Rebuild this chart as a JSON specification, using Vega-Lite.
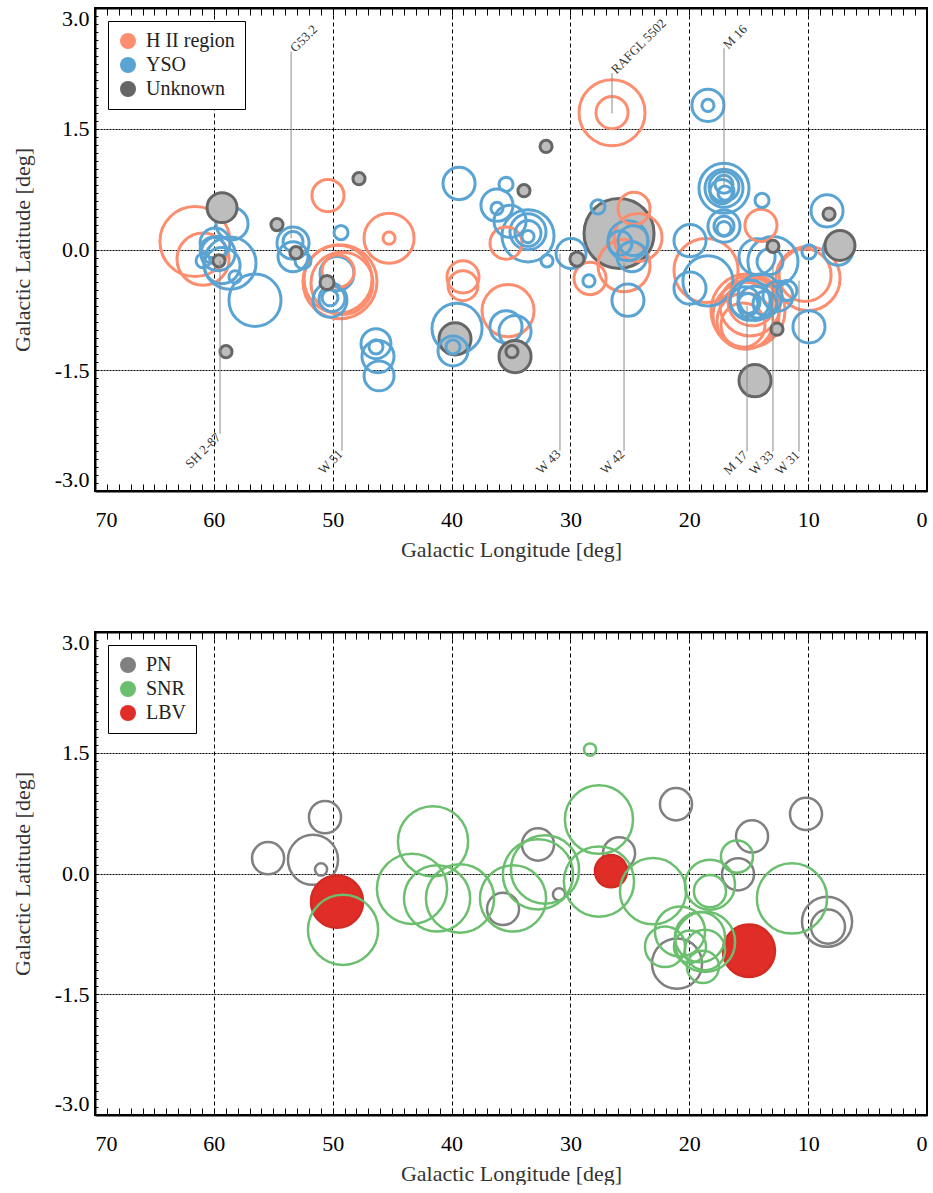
{
  "$schema": "https://vega.github.io/schema/vega-lite/v6.json",
  "background": "white",
  "padding": {"left": 10, "top": 4, "right": 0, "bottom": 0},
  "config": {
    "font": "Liberation Serif",
    "view": {"stroke": "black", "strokeWidth": 2},
    "axis": {
      "labelFont": "Liberation Serif",
      "titleFont": "Liberation Serif",
      "labelFontSize": 22,
      "titleFontSize": 22,
      "labelColor": "#000",
      "titleColor": "#333",
      "titleFontWeight": "normal",
      "domainColor": "black",
      "domainWidth": 2,
      "tickColor": "black",
      "tickWidth": 1,
      "labelOverlap": false,
      "labelBound": false,
      "gridColor": "black",
      "gridWidth": 1
    },
    "legend": {
      "orient": "top-left",
      "offset": 13,
      "padding": 10,
      "strokeColor": "black",
      "fillColor": "white",
      "cornerRadius": 0,
      "labelFont": "Liberation Serif",
      "labelFontSize": 20,
      "labelColor": "#222",
      "symbolType": "circle",
      "symbolSize": 256,
      "symbolStrokeWidth": 0,
      "symbolOpacity": 1,
      "rowPadding": 4,
      "labelOffset": 8
    }
  },
  "datasets": {
    "top": [
      {"type": "H II region", "l": 61.59, "b": 0.10, "r": 0.435},
      {"type": "H II region", "l": 60.91, "b": -0.12, "r": 0.323},
      {"type": "H II region", "l": 50.40, "b": 0.67, "r": 0.199},
      {"type": "H II region", "l": 45.26, "b": 0.14, "r": 0.311},
      {"type": "H II region", "l": 45.26, "b": 0.14, "r": 0.075},
      {"type": "H II region", "l": 49.39, "b": -0.40, "r": 0.46},
      {"type": "H II region", "l": 49.55, "b": -0.37, "r": 0.422},
      {"type": "H II region", "l": 49.22, "b": -0.42, "r": 0.385},
      {"type": "H II region", "l": 49.55, "b": -0.27, "r": 0.199},
      {"type": "H II region", "l": 39.04, "b": -0.34, "r": 0.199},
      {"type": "H II region", "l": 39.04, "b": -0.45, "r": 0.186},
      {"type": "H II region", "l": 35.25, "b": -0.76, "r": 0.323},
      {"type": "H II region", "l": 35.42, "b": 0.08, "r": 0.199},
      {"type": "H II region", "l": 28.35, "b": -0.36, "r": 0.199},
      {"type": "H II region", "l": 26.50, "b": 1.70, "r": 0.41},
      {"type": "H II region", "l": 26.50, "b": 1.70, "r": 0.199},
      {"type": "H II region", "l": 24.65, "b": 0.51, "r": 0.199},
      {"type": "H II region", "l": 24.31, "b": 0.15, "r": 0.298},
      {"type": "H II region", "l": 25.49, "b": -0.20, "r": 0.323},
      {"type": "H II region", "l": 13.97, "b": 0.30, "r": 0.199},
      {"type": "H II region", "l": 18.59, "b": -0.26, "r": 0.398},
      {"type": "H II region", "l": 15.06, "b": -0.76, "r": 0.46},
      {"type": "H II region", "l": 15.23, "b": -0.82, "r": 0.41},
      {"type": "H II region", "l": 15.31, "b": -0.89, "r": 0.348},
      {"type": "H II region", "l": 15.48, "b": -0.94, "r": 0.273},
      {"type": "H II region", "l": 14.89, "b": -0.70, "r": 0.373},
      {"type": "H II region", "l": 14.72, "b": -0.65, "r": 0.298},
      {"type": "H II region", "l": 10.01, "b": -0.36, "r": 0.398},
      {"type": "H II region", "l": 10.26, "b": -0.32, "r": 0.323},
      {"type": "YSO", "l": 58.47, "b": 0.32, "r": 0.199},
      {"type": "YSO", "l": 59.90, "b": 0.08, "r": 0.186},
      {"type": "YSO", "l": 59.65, "b": -0.05, "r": 0.211},
      {"type": "YSO", "l": 60.07, "b": -0.01, "r": 0.161},
      {"type": "YSO", "l": 58.64, "b": -0.17, "r": 0.323},
      {"type": "YSO", "l": 56.54, "b": -0.63, "r": 0.323},
      {"type": "YSO", "l": 58.22, "b": -0.34, "r": 0.075},
      {"type": "YSO", "l": 60.91, "b": -0.14, "r": 0.087},
      {"type": "YSO", "l": 59.31, "b": -0.20, "r": 0.224},
      {"type": "YSO", "l": 53.34, "b": 0.08, "r": 0.199},
      {"type": "YSO", "l": 53.34, "b": -0.09, "r": 0.186},
      {"type": "YSO", "l": 53.34, "b": 0.10, "r": 0.124},
      {"type": "YSO", "l": 52.50, "b": -0.14, "r": 0.099},
      {"type": "YSO", "l": 49.30, "b": 0.21, "r": 0.087},
      {"type": "YSO", "l": 49.64, "b": -0.30, "r": 0.211},
      {"type": "YSO", "l": 50.23, "b": -0.63, "r": 0.211},
      {"type": "YSO", "l": 50.23, "b": -0.60, "r": 0.099},
      {"type": "YSO", "l": 50.06, "b": -0.61, "r": 0.161},
      {"type": "YSO", "l": 46.36, "b": -1.17, "r": 0.186},
      {"type": "YSO", "l": 46.19, "b": -1.33, "r": 0.199},
      {"type": "YSO", "l": 46.10, "b": -1.57, "r": 0.186},
      {"type": "YSO", "l": 46.36, "b": -1.21, "r": 0.087},
      {"type": "YSO", "l": 39.37, "b": 0.82, "r": 0.199},
      {"type": "YSO", "l": 35.42, "b": 0.81, "r": 0.087},
      {"type": "YSO", "l": 36.18, "b": 0.55, "r": 0.199},
      {"type": "YSO", "l": 36.18, "b": 0.51, "r": 0.075},
      {"type": "YSO", "l": 35.08, "b": 0.35, "r": 0.199},
      {"type": "YSO", "l": 33.57, "b": 0.17, "r": 0.323},
      {"type": "YSO", "l": 33.57, "b": 0.22, "r": 0.224},
      {"type": "YSO", "l": 33.57, "b": 0.20, "r": 0.161},
      {"type": "YSO", "l": 33.57, "b": 0.16, "r": 0.075},
      {"type": "YSO", "l": 31.97, "b": -0.14, "r": 0.075},
      {"type": "YSO", "l": 29.95, "b": -0.05, "r": 0.186},
      {"type": "YSO", "l": 28.44, "b": -0.39, "r": 0.075},
      {"type": "YSO", "l": 27.68, "b": 0.53, "r": 0.087},
      {"type": "YSO", "l": 25.16, "b": 0.11, "r": 0.248},
      {"type": "YSO", "l": 24.73, "b": 0.11, "r": 0.186},
      {"type": "YSO", "l": 25.83, "b": 0.08, "r": 0.149},
      {"type": "YSO", "l": 24.82, "b": -0.09, "r": 0.186},
      {"type": "YSO", "l": 25.16, "b": -0.63, "r": 0.199},
      {"type": "YSO", "l": 39.54, "b": -0.98, "r": 0.311},
      {"type": "YSO", "l": 39.88, "b": -1.26, "r": 0.186},
      {"type": "YSO", "l": 39.88, "b": -1.21, "r": 0.087},
      {"type": "YSO", "l": 35.42, "b": -0.96, "r": 0.199},
      {"type": "YSO", "l": 34.66, "b": -1.02, "r": 0.199},
      {"type": "YSO", "l": 18.43, "b": 1.79, "r": 0.199},
      {"type": "YSO", "l": 18.43, "b": 1.79, "r": 0.075},
      {"type": "YSO", "l": 17.08, "b": 0.76, "r": 0.311},
      {"type": "YSO", "l": 17.08, "b": 0.76, "r": 0.236},
      {"type": "YSO", "l": 17.08, "b": 0.78, "r": 0.186},
      {"type": "YSO", "l": 17.25, "b": 0.72, "r": 0.149},
      {"type": "YSO", "l": 17.08, "b": 0.81, "r": 0.112},
      {"type": "YSO", "l": 16.99, "b": 0.70, "r": 0.087},
      {"type": "YSO", "l": 13.88, "b": 0.61, "r": 0.087},
      {"type": "YSO", "l": 17.08, "b": 0.29, "r": 0.199},
      {"type": "YSO", "l": 17.08, "b": 0.26, "r": 0.087},
      {"type": "YSO", "l": 17.08, "b": 0.29, "r": 0.124},
      {"type": "YSO", "l": 8.41, "b": 0.48, "r": 0.199},
      {"type": "YSO", "l": 7.49, "b": -0.01, "r": 0.186},
      {"type": "YSO", "l": 9.93, "b": -0.03, "r": 0.087},
      {"type": "YSO", "l": 19.94, "b": 0.11, "r": 0.199},
      {"type": "YSO", "l": 18.43, "b": -0.39, "r": 0.311},
      {"type": "YSO", "l": 19.94, "b": -0.48, "r": 0.199},
      {"type": "YSO", "l": 14.30, "b": -0.09, "r": 0.224},
      {"type": "YSO", "l": 12.96, "b": -0.15, "r": 0.311},
      {"type": "YSO", "l": 13.21, "b": -0.15, "r": 0.161},
      {"type": "YSO", "l": 14.89, "b": -0.63, "r": 0.248},
      {"type": "YSO", "l": 14.47, "b": -0.67, "r": 0.211},
      {"type": "YSO", "l": 15.31, "b": -0.65, "r": 0.186},
      {"type": "YSO", "l": 14.05, "b": -0.58, "r": 0.273},
      {"type": "YSO", "l": 15.06, "b": -0.67, "r": 0.124},
      {"type": "YSO", "l": 13.63, "b": -0.67, "r": 0.149},
      {"type": "YSO", "l": 12.54, "b": -0.58, "r": 0.186},
      {"type": "YSO", "l": 11.78, "b": -0.51, "r": 0.124},
      {"type": "YSO", "l": 9.93, "b": -0.96, "r": 0.199},
      {"type": "Unknown", "l": 59.31, "b": 0.52, "r": 0.186},
      {"type": "Unknown", "l": 59.57, "b": -0.14, "r": 0.075},
      {"type": "Unknown", "l": 58.98, "b": -1.27, "r": 0.075},
      {"type": "Unknown", "l": 54.69, "b": 0.31, "r": 0.075},
      {"type": "Unknown", "l": 53.09, "b": -0.04, "r": 0.075},
      {"type": "Unknown", "l": 47.79, "b": 0.88, "r": 0.075},
      {"type": "Unknown", "l": 50.48, "b": -0.41, "r": 0.087},
      {"type": "Unknown", "l": 33.91, "b": 0.73, "r": 0.075},
      {"type": "Unknown", "l": 32.05, "b": 1.28, "r": 0.075},
      {"type": "Unknown", "l": 29.45, "b": -0.12, "r": 0.087},
      {"type": "Unknown", "l": 25.91, "b": 0.20, "r": 0.435},
      {"type": "Unknown", "l": 39.71, "b": -1.11, "r": 0.199},
      {"type": "Unknown", "l": 34.66, "b": -1.33, "r": 0.199},
      {"type": "Unknown", "l": 34.92, "b": -1.27, "r": 0.075},
      {"type": "Unknown", "l": 8.24, "b": 0.44, "r": 0.075},
      {"type": "Unknown", "l": 7.32, "b": 0.05, "r": 0.186},
      {"type": "Unknown", "l": 12.96, "b": 0.04, "r": 0.075},
      {"type": "Unknown", "l": 12.62, "b": -0.99, "r": 0.075},
      {"type": "Unknown", "l": 14.47, "b": -1.63, "r": 0.199}
    ],
    "labels": [
      {"name": "G53.2", "l": 53.5, "blo": 0.14, "bhi": 2.46, "side": "top"},
      {"name": "RAFGL 5502", "l": 26.5, "blo": 1.69, "bhi": 2.19, "side": "top"},
      {"name": "M 16", "l": 17.08, "blo": 0.78, "bhi": 2.5, "side": "top"},
      {"name": "SH 2-87", "l": 59.48, "blo": -2.29, "bhi": -0.14, "side": "bottom"},
      {"name": "W 51", "l": 49.22, "blo": -2.5, "bhi": -0.8, "side": "bottom"},
      {"name": "W 43", "l": 30.88, "blo": -2.5, "bhi": -0.05, "side": "bottom"},
      {"name": "W 42", "l": 25.49, "blo": -2.5, "bhi": -0.17, "side": "bottom"},
      {"name": "M 17", "l": 15.14, "blo": -2.51, "bhi": -0.7, "side": "bottom"},
      {"name": "W 33", "l": 12.96, "blo": -2.51, "bhi": -0.2, "side": "bottom"},
      {"name": "W 31", "l": 10.77, "blo": -2.51, "bhi": -0.385, "side": "bottom"}
    ],
    "bottom": [
      {"type": "PN", "l": 50.65, "b": 0.70, "r": 0.199},
      {"type": "PN", "l": 55.44, "b": 0.19, "r": 0.199},
      {"type": "PN", "l": 51.66, "b": 0.17, "r": 0.311},
      {"type": "PN", "l": 50.98, "b": 0.05, "r": 0.075},
      {"type": "PN", "l": 21.12, "b": 0.86, "r": 0.199},
      {"type": "PN", "l": 10.18, "b": 0.74, "r": 0.199},
      {"type": "PN", "l": 14.72, "b": 0.46, "r": 0.199},
      {"type": "PN", "l": 15.90, "b": -0.01, "r": 0.199},
      {"type": "PN", "l": 25.91, "b": 0.25, "r": 0.199},
      {"type": "PN", "l": 32.73, "b": 0.36, "r": 0.199},
      {"type": "PN", "l": 30.96, "b": -0.26, "r": 0.075},
      {"type": "PN", "l": 35.67, "b": -0.44, "r": 0.199},
      {"type": "PN", "l": 8.41, "b": -0.60, "r": 0.311},
      {"type": "PN", "l": 8.33, "b": -0.66, "r": 0.211},
      {"type": "PN", "l": 21.03, "b": -1.12, "r": 0.311},
      {"type": "LBV", "l": 49.64, "b": -0.35, "r": 0.323},
      {"type": "LBV", "l": 26.59, "b": 0.03, "r": 0.199},
      {"type": "LBV", "l": 14.98, "b": -0.96, "r": 0.323},
      {"type": "SNR", "l": 28.35, "b": 1.54, "r": 0.075},
      {"type": "SNR", "l": 27.60, "b": 0.67, "r": 0.423},
      {"type": "SNR", "l": 41.56, "b": 0.40, "r": 0.436},
      {"type": "SNR", "l": 43.33, "b": -0.19, "r": 0.436},
      {"type": "SNR", "l": 41.22, "b": -0.31, "r": 0.411},
      {"type": "SNR", "l": 39.29, "b": -0.31, "r": 0.423},
      {"type": "SNR", "l": 49.13, "b": -0.70, "r": 0.436},
      {"type": "SNR", "l": 34.83, "b": -0.31, "r": 0.411},
      {"type": "SNR", "l": 32.73, "b": -0.01, "r": 0.436},
      {"type": "SNR", "l": 32.14, "b": 0.05, "r": 0.423},
      {"type": "SNR", "l": 27.60, "b": -0.10, "r": 0.436},
      {"type": "SNR", "l": 23.05, "b": -0.22, "r": 0.411},
      {"type": "SNR", "l": 18.26, "b": -0.14, "r": 0.311},
      {"type": "SNR", "l": 18.26, "b": -0.22, "r": 0.199},
      {"type": "SNR", "l": 15.99, "b": 0.21, "r": 0.199},
      {"type": "SNR", "l": 11.36, "b": -0.31, "r": 0.436},
      {"type": "SNR", "l": 20.78, "b": -0.72, "r": 0.311},
      {"type": "SNR", "l": 19.10, "b": -0.79, "r": 0.311},
      {"type": "SNR", "l": 18.68, "b": -0.95, "r": 0.249},
      {"type": "SNR", "l": 19.94, "b": -0.91, "r": 0.199},
      {"type": "SNR", "l": 22.04, "b": -0.91, "r": 0.249},
      {"type": "SNR", "l": 18.85, "b": -1.16, "r": 0.199},
      {"type": "SNR", "l": 18.68, "b": -0.85, "r": 0.374}
    ]
  },
  "spacing": 67,
  "resolve": {
    "scale": {"stroke": "independent", "fill": "independent", "size": "independent"},
    "legend": {"stroke": "independent", "fill": "independent"}
  },
  "vconcat": [
    {
      "width": 832,
      "height": 483,
      "resolve": {"axis": {"x": "independent"}},
      "layer": [
        {
          "data": {"name": "top"},
          "mark": {"type": "point", "shape": "circle", "strokeWidth": 3, "opacity": 1},
          "encoding": {
            "x": {"field": "l", "type": "quantitative",
              "scale": {"domain": [0, 70], "reverse": true, "nice": false, "zero": false},
              "axis": {"orient": "bottom", "title": "Galactic Longitude [deg]",
                "values": [0,1,2,3,4,5,6,7,8,9,10,11,12,13,14,15,16,17,18,19,20,21,22,23,24,25,26,27,28,29,30,31,32,33,34,35,36,37,38,39,40,41,42,43,44,45,46,47,48,49,50,51,52,53,54,55,56,57,58,59,60,61,62,63,64,65,66,67,68,69,70],
                "labelExpr": "datum.value % 10 === 0 ? format(datum.value, 'd') : ''",
                "tickSize": -7, "labelPadding": 25, "titlePadding": 9,
                "grid": true, "gridDash": [4, 3],
                "gridOpacity": {"condition": {"test": "datum.value % 10 === 0 && datum.value > 0 && datum.value < 70", "value": 1}, "value": 0}}},
            "y": {"field": "b", "type": "quantitative",
              "scale": {"domain": [-3, 3], "nice": false, "zero": false},
              "axis": {"orient": "left", "title": "Galactic Latitude [deg]",
                "values": [-3,-2.9,-2.8,-2.7,-2.6,-2.5,-2.4,-2.3,-2.2,-2.1,-2,-1.9,-1.8,-1.7,-1.6,-1.5,-1.4,-1.3,-1.2,-1.1,-1,-0.9,-0.8,-0.7,-0.6,-0.5,-0.4,-0.3,-0.2,-0.1,0,0.1,0.2,0.3,0.4,0.5,0.6,0.7,0.8,0.9,1,1.1,1.2,1.3,1.4,1.5,1.6,1.7,1.8,1.9,2,2.1,2.2,2.3,2.4,2.5,2.6,2.7,2.8,2.9,3],
                "labelExpr": "abs(datum.value*2/3 - round(datum.value*2/3)) < 0.001 ? (datum.value < -0.01 ? '-' + format(-datum.value, '.1f') : format(abs(datum.value), '.1f')) : ''",
                "labelFlush": true, "tickSize": -3, "labelPadding": 9, "titlePadding": 20,
                "grid": true, "gridDash": [2, 1],
                "gridOpacity": {"condition": {"test": "abs(datum.value) < 2.9 && abs(datum.value*2/3 - round(datum.value*2/3)) < 0.001", "value": 1}, "value": 0}}},
            "size": {"field": "r", "type": "quantitative",
              "scale": {"type": "pow", "exponent": 2, "domain": [0, 1], "range": [0, 25921], "nice": false}, "legend": null},
            "stroke": {"field": "type", "type": "nominal",
              "scale": {"domain": ["YSO", "H II region", "Unknown"], "range": ["#5aa4d4", "#fc8d6e", "#666666"]},
              "legend": null},
            "fill": {"condition": {"test": "datum.type === 'Unknown'", "value": "#bdbdbd"}, "value": "transparent"},
            "order": {"field": "r", "sort": "descending"}
          }
        },
        {
          "data": {"name": "labels"},
          "mark": {"type": "rule", "color": "#8a8a8a", "strokeWidth": 1},
          "encoding": {
            "x": {"field": "l", "type": "quantitative", "scale": {"domain": [0, 70], "reverse": true, "nice": false, "zero": false}, "axis": null},
            "y": {"field": "blo", "type": "quantitative", "scale": {"domain": [-3, 3], "nice": false, "zero": false},
              "axis": {"orient": "left", "title": "Galactic Latitude [deg]",
                "values": [-3,-2.9,-2.8,-2.7,-2.6,-2.5,-2.4,-2.3,-2.2,-2.1,-2,-1.9,-1.8,-1.7,-1.6,-1.5,-1.4,-1.3,-1.2,-1.1,-1,-0.9,-0.8,-0.7,-0.6,-0.5,-0.4,-0.3,-0.2,-0.1,0,0.1,0.2,0.3,0.4,0.5,0.6,0.7,0.8,0.9,1,1.1,1.2,1.3,1.4,1.5,1.6,1.7,1.8,1.9,2,2.1,2.2,2.3,2.4,2.5,2.6,2.7,2.8,2.9,3],
                "labelExpr": "abs(datum.value*2/3 - round(datum.value*2/3)) < 0.001 ? (datum.value < -0.01 ? '-' + format(-datum.value, '.1f') : format(abs(datum.value), '.1f')) : ''",
                "labelFlush": true, "tickSize": -3, "labelPadding": 9, "titlePadding": 20,
                "grid": true, "gridDash": [2, 1],
                "gridOpacity": {"condition": {"test": "abs(datum.value) < 2.9 && abs(datum.value*2/3 - round(datum.value*2/3)) < 0.001", "value": 1}, "value": 0}}},
            "y2": {"field": "bhi"}
          }
        },
        {
          "data": {"name": "labels"},
          "transform": [{"filter": "datum.side === 'top'"}],
          "mark": {"type": "text", "angle": 315, "align": "left", "baseline": "middle", "dx": 2, "fontSize": 13, "font": "Liberation Serif", "color": "#333"},
          "encoding": {
            "x": {"field": "l", "type": "quantitative", "scale": {"domain": [0, 70], "reverse": true, "nice": false, "zero": false}, "axis": null},
            "y": {"field": "bhi", "type": "quantitative", "scale": {"domain": [-3, 3], "nice": false, "zero": false},
              "axis": {"orient": "left", "title": "Galactic Latitude [deg]",
                "values": [-3,-2.9,-2.8,-2.7,-2.6,-2.5,-2.4,-2.3,-2.2,-2.1,-2,-1.9,-1.8,-1.7,-1.6,-1.5,-1.4,-1.3,-1.2,-1.1,-1,-0.9,-0.8,-0.7,-0.6,-0.5,-0.4,-0.3,-0.2,-0.1,0,0.1,0.2,0.3,0.4,0.5,0.6,0.7,0.8,0.9,1,1.1,1.2,1.3,1.4,1.5,1.6,1.7,1.8,1.9,2,2.1,2.2,2.3,2.4,2.5,2.6,2.7,2.8,2.9,3],
                "labelExpr": "abs(datum.value*2/3 - round(datum.value*2/3)) < 0.001 ? (datum.value < -0.01 ? '-' + format(-datum.value, '.1f') : format(abs(datum.value), '.1f')) : ''",
                "labelFlush": true, "tickSize": -3, "labelPadding": 9, "titlePadding": 20,
                "grid": true, "gridDash": [2, 1],
                "gridOpacity": {"condition": {"test": "abs(datum.value) < 2.9 && abs(datum.value*2/3 - round(datum.value*2/3)) < 0.001", "value": 1}, "value": 0}}},
            "text": {"field": "name"}
          }
        },
        {
          "data": {"name": "labels"},
          "transform": [{"filter": "datum.side === 'bottom'"}],
          "mark": {"type": "text", "angle": 315, "align": "right", "baseline": "middle", "dx": -2, "fontSize": 13, "font": "Liberation Serif", "color": "#333"},
          "encoding": {
            "x": {"field": "l", "type": "quantitative", "scale": {"domain": [0, 70], "reverse": true, "nice": false, "zero": false}, "axis": null},
            "y": {"field": "blo", "type": "quantitative", "scale": {"domain": [-3, 3], "nice": false, "zero": false},
              "axis": {"orient": "left", "title": "Galactic Latitude [deg]",
                "values": [-3,-2.9,-2.8,-2.7,-2.6,-2.5,-2.4,-2.3,-2.2,-2.1,-2,-1.9,-1.8,-1.7,-1.6,-1.5,-1.4,-1.3,-1.2,-1.1,-1,-0.9,-0.8,-0.7,-0.6,-0.5,-0.4,-0.3,-0.2,-0.1,0,0.1,0.2,0.3,0.4,0.5,0.6,0.7,0.8,0.9,1,1.1,1.2,1.3,1.4,1.5,1.6,1.7,1.8,1.9,2,2.1,2.2,2.3,2.4,2.5,2.6,2.7,2.8,2.9,3],
                "labelExpr": "abs(datum.value*2/3 - round(datum.value*2/3)) < 0.001 ? (datum.value < -0.01 ? '-' + format(-datum.value, '.1f') : format(abs(datum.value), '.1f')) : ''",
                "labelFlush": true, "tickSize": -3, "labelPadding": 9, "titlePadding": 20,
                "grid": true, "gridDash": [2, 1],
                "gridOpacity": {"condition": {"test": "abs(datum.value) < 2.9 && abs(datum.value*2/3 - round(datum.value*2/3)) < 0.001", "value": 1}, "value": 0}}},
            "text": {"field": "name"}
          }
        },
        {
          "data": {"name": "top"},
          "transform": [{"filter": "false"}],
          "mark": {"type": "point", "shape": "circle", "filled": true},
          "encoding": {
            "x": {"field": "l", "type": "quantitative", "scale": {"domain": [0, 70], "reverse": true, "nice": false, "zero": false},
              "axis": {"orient": "top", "title": null, "labels": false, "grid": false, "tickSize": -7,
                "values": [0,1,2,3,4,5,6,7,8,9,10,11,12,13,14,15,16,17,18,19,20,21,22,23,24,25,26,27,28,29,30,31,32,33,34,35,36,37,38,39,40,41,42,43,44,45,46,47,48,49,50,51,52,53,54,55,56,57,58,59,60,61,62,63,64,65,66,67,68,69,70]}},
            "y": {"field": "b", "type": "quantitative", "scale": {"domain": [-3, 3], "nice": false, "zero": false},
              "axis": {"orient": "left", "title": "Galactic Latitude [deg]",
                "values": [-3,-2.9,-2.8,-2.7,-2.6,-2.5,-2.4,-2.3,-2.2,-2.1,-2,-1.9,-1.8,-1.7,-1.6,-1.5,-1.4,-1.3,-1.2,-1.1,-1,-0.9,-0.8,-0.7,-0.6,-0.5,-0.4,-0.3,-0.2,-0.1,0,0.1,0.2,0.3,0.4,0.5,0.6,0.7,0.8,0.9,1,1.1,1.2,1.3,1.4,1.5,1.6,1.7,1.8,1.9,2,2.1,2.2,2.3,2.4,2.5,2.6,2.7,2.8,2.9,3],
                "labelExpr": "abs(datum.value*2/3 - round(datum.value*2/3)) < 0.001 ? (datum.value < -0.01 ? '-' + format(-datum.value, '.1f') : format(abs(datum.value), '.1f')) : ''",
                "labelFlush": true, "tickSize": -3, "labelPadding": 9, "titlePadding": 20,
                "grid": true, "gridDash": [2, 1],
                "gridOpacity": {"condition": {"test": "abs(datum.value) < 2.9 && abs(datum.value*2/3 - round(datum.value*2/3)) < 0.001", "value": 1}, "value": 0}}},
            "fill": {"field": "type", "type": "nominal",
              "scale": {"domain": ["H II region", "YSO", "Unknown"], "range": ["#fc8d6e", "#5aa4d4", "#666666"]},
              "legend": {"title": null}}
          }
        }
      ]
    },
    {
      "width": 832,
      "height": 483,
      "resolve": {"axis": {"x": "independent"}},
      "layer": [
        {
          "data": {"name": "bottom"},
          "mark": {"type": "point", "shape": "circle", "strokeWidth": 2.5, "opacity": 1},
          "encoding": {
            "x": {"field": "l", "type": "quantitative",
              "scale": {"domain": [0, 70], "reverse": true, "nice": false, "zero": false},
              "axis": {"orient": "bottom", "title": "Galactic Longitude [deg]",
                "values": [0,1,2,3,4,5,6,7,8,9,10,11,12,13,14,15,16,17,18,19,20,21,22,23,24,25,26,27,28,29,30,31,32,33,34,35,36,37,38,39,40,41,42,43,44,45,46,47,48,49,50,51,52,53,54,55,56,57,58,59,60,61,62,63,64,65,66,67,68,69,70],
                "labelExpr": "datum.value % 10 === 0 ? format(datum.value, 'd') : ''",
                "tickSize": -7, "labelPadding": 25, "titlePadding": 9,
                "grid": true, "gridDash": [4, 3],
                "gridOpacity": {"condition": {"test": "datum.value % 10 === 0 && datum.value > 0 && datum.value < 70", "value": 1}, "value": 0}}},
            "y": {"field": "b", "type": "quantitative",
              "scale": {"domain": [-3, 3], "nice": false, "zero": false},
              "axis": {"orient": "left", "title": "Galactic Latitude [deg]",
                "values": [-3,-2.9,-2.8,-2.7,-2.6,-2.5,-2.4,-2.3,-2.2,-2.1,-2,-1.9,-1.8,-1.7,-1.6,-1.5,-1.4,-1.3,-1.2,-1.1,-1,-0.9,-0.8,-0.7,-0.6,-0.5,-0.4,-0.3,-0.2,-0.1,0,0.1,0.2,0.3,0.4,0.5,0.6,0.7,0.8,0.9,1,1.1,1.2,1.3,1.4,1.5,1.6,1.7,1.8,1.9,2,2.1,2.2,2.3,2.4,2.5,2.6,2.7,2.8,2.9,3],
                "labelExpr": "abs(datum.value*2/3 - round(datum.value*2/3)) < 0.001 ? (datum.value < -0.01 ? '-' + format(-datum.value, '.1f') : format(abs(datum.value), '.1f')) : ''",
                "labelFlush": true, "tickSize": -3, "labelPadding": 9, "titlePadding": 20,
                "grid": true, "gridDash": [2, 1],
                "gridOpacity": {"condition": {"test": "abs(datum.value) < 2.9 && abs(datum.value*2/3 - round(datum.value*2/3)) < 0.001", "value": 1}, "value": 0}}},
            "size": {"field": "r", "type": "quantitative",
              "scale": {"type": "pow", "exponent": 2, "domain": [0, 1], "range": [0, 25921], "nice": false}, "legend": null},
            "stroke": {"field": "type", "type": "nominal",
              "scale": {"domain": ["SNR", "PN", "LBV"], "range": ["#6bbf6e", "#808080", "#d42a24"]},
              "legend": null},
            "fill": {"condition": {"test": "datum.type === 'LBV'", "value": "#e12d27"}, "value": "transparent"},
            "order": [{"field": "r", "sort": "descending"}, {"field": "type", "sort": "ascending"}]
          }
        },
        {
          "data": {"name": "bottom"},
          "transform": [{"filter": "false"}],
          "mark": {"type": "point", "shape": "circle", "filled": true},
          "encoding": {
            "x": {"field": "l", "type": "quantitative", "scale": {"domain": [0, 70], "reverse": true, "nice": false, "zero": false},
              "axis": {"orient": "top", "title": null, "labels": false, "grid": false, "tickSize": -7,
                "values": [0,1,2,3,4,5,6,7,8,9,10,11,12,13,14,15,16,17,18,19,20,21,22,23,24,25,26,27,28,29,30,31,32,33,34,35,36,37,38,39,40,41,42,43,44,45,46,47,48,49,50,51,52,53,54,55,56,57,58,59,60,61,62,63,64,65,66,67,68,69,70]}},
            "y": {"field": "b", "type": "quantitative", "scale": {"domain": [-3, 3], "nice": false, "zero": false},
              "axis": {"orient": "left", "title": "Galactic Latitude [deg]",
                "values": [-3,-2.9,-2.8,-2.7,-2.6,-2.5,-2.4,-2.3,-2.2,-2.1,-2,-1.9,-1.8,-1.7,-1.6,-1.5,-1.4,-1.3,-1.2,-1.1,-1,-0.9,-0.8,-0.7,-0.6,-0.5,-0.4,-0.3,-0.2,-0.1,0,0.1,0.2,0.3,0.4,0.5,0.6,0.7,0.8,0.9,1,1.1,1.2,1.3,1.4,1.5,1.6,1.7,1.8,1.9,2,2.1,2.2,2.3,2.4,2.5,2.6,2.7,2.8,2.9,3],
                "labelExpr": "abs(datum.value*2/3 - round(datum.value*2/3)) < 0.001 ? (datum.value < -0.01 ? '-' + format(-datum.value, '.1f') : format(abs(datum.value), '.1f')) : ''",
                "labelFlush": true, "tickSize": -3, "labelPadding": 9, "titlePadding": 20,
                "grid": true, "gridDash": [2, 1],
                "gridOpacity": {"condition": {"test": "abs(datum.value) < 2.9 && abs(datum.value*2/3 - round(datum.value*2/3)) < 0.001", "value": 1}, "value": 0}}},
            "fill": {"field": "type", "type": "nominal",
              "scale": {"domain": ["PN", "SNR", "LBV"], "range": ["#808080", "#6bbf6e", "#e12d27"]},
              "legend": {"title": null}}
          }
        }
      ]
    }
  ]
}
